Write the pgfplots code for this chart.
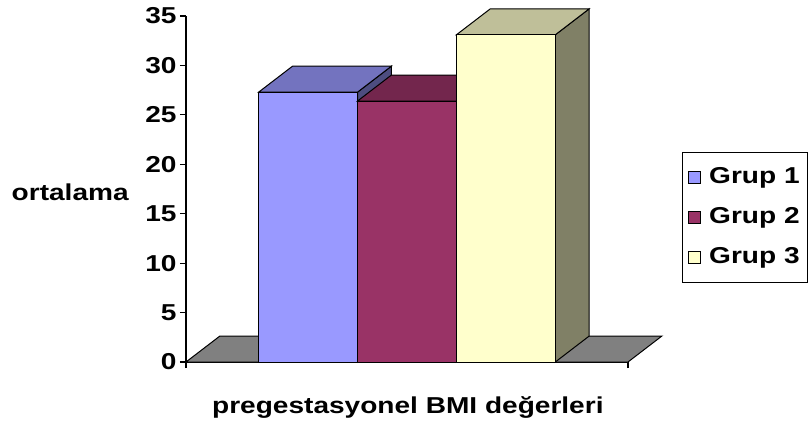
\documentclass[border=0pt]{standalone}
\usepackage{pgfplots}
\pgfplotsset{compat=1.18}
\usepackage{fontspec}
\setmainfont{Liberation Sans}[FakeStretch=1.22]

\definecolor{gAfront}{RGB}{153,153,255}
\definecolor{gAtop}{RGB}{115,115,191}
\definecolor{gAside}{RGB}{77,77,128}
\definecolor{gBfront}{RGB}{153,51,102}
\definecolor{gBtop}{RGB}{115,38,77}
\definecolor{gBside}{RGB}{77,26,51}
\definecolor{gCfront}{RGB}{255,255,204}
\definecolor{gCtop}{RGB}{191,191,153}
\definecolor{gCside}{RGB}{128,128,102}
\definecolor{floorgray}{RGB}{128,128,128}

\begin{document}
\begin{tikzpicture}
\path[use as bounding box] (-186pt,-66pt) rectangle (624pt,362pt);
\begin{axis}[
    at={(0,0)}, anchor=south west,
    scale only axis,
    width=442pt, height=346pt,
    xmin=0, xmax=4.47,
    ymin=0, ymax=35,
    clip=false,
    axis x line=bottom, axis y line=left,
    axis line style={-, line width=1.4pt},
    xtick={0,4.47}, xticklabels={},
    ytick={0,5,...,35},
    tick align=outside,
    major tick length=6pt,
    tick style={line width=1.2pt, black},
    /pgf/number format/assume math mode=true,
    ticklabel style={font=\fontsize{23}{27}\selectfont\bfseries},
    ylabel={ortalama},
    ylabel style={rotate=-90, anchor=center, at={(axis description cs:-0.262,0.491)}, font=\fontsize{23}{27}\selectfont\bfseries},
    xlabel={pregestasyonel BMI değerleri},
    xlabel style={anchor=center, at={(axis description cs:0.502,-0.130)}, font=\fontsize{23}{27}\selectfont\bfseries},
    legend style={
        at={(axis description cs:1.122,0.607)}, anchor=north west,
        draw=black, line width=1pt,
        font=\fontsize{23}{27}\selectfont\bfseries,
        inner xsep=6pt, inner ysep=5pt,
        row sep=0pt,
        nodes={inner ysep=10pt, text height=16pt, text depth=4pt},
        /tikz/every odd column/.append style={column sep=6pt},
    },
    legend cell align=left,
    legend image code/.code={\draw[#1, draw=black, line width=0.8pt] (0pt,-6pt) rectangle (12pt,6pt);},
    every axis plot/.append style={line width=1pt, draw=black},
]
% floor
\addplot[fill=floorgray, forget plot] coordinates {(0,0) (4.47,0) (4.813,2.63) (0.343,2.63)} -- cycle;

% Grup 1 = 27.3
\addplot[fill=gAside, forget plot] coordinates {(1.735,0) (2.078,2.63) (2.078,29.93) (1.735,27.3)} -- cycle;
\addplot[fill=gAtop, forget plot] coordinates {(0.735,27.3) (1.735,27.3) (2.078,29.93) (1.078,29.93)} -- cycle;
\addplot[fill=gAfront] coordinates {(0.735,0) (1.735,0) (1.735,27.3) (0.735,27.3)} -- cycle;
\addlegendentry{Grup 1}

% Grup 2 = 26.4
\addplot[fill=gBside, forget plot] coordinates {(2.735,0) (3.078,2.63) (3.078,29.03) (2.735,26.4)} -- cycle;
\addplot[fill=gBtop, forget plot] coordinates {(1.735,26.4) (2.735,26.4) (3.078,29.03) (2.078,29.03)} -- cycle;
\addplot[fill=gBfront] coordinates {(1.735,0) (2.735,0) (2.735,26.4) (1.735,26.4)} -- cycle;
\addlegendentry{Grup 2}

% Grup 3 = 33.1
\addplot[fill=gCside, forget plot] coordinates {(3.735,0) (4.078,2.63) (4.078,35.73) (3.735,33.1)} -- cycle;
\addplot[fill=gCtop, forget plot] coordinates {(2.735,33.1) (3.735,33.1) (4.078,35.73) (3.078,35.73)} -- cycle;
\addplot[fill=gCfront] coordinates {(2.735,0) (3.735,0) (3.735,33.1) (2.735,33.1)} -- cycle;
\addlegendentry{Grup 3}
\end{axis}
\end{tikzpicture}
\end{document}
